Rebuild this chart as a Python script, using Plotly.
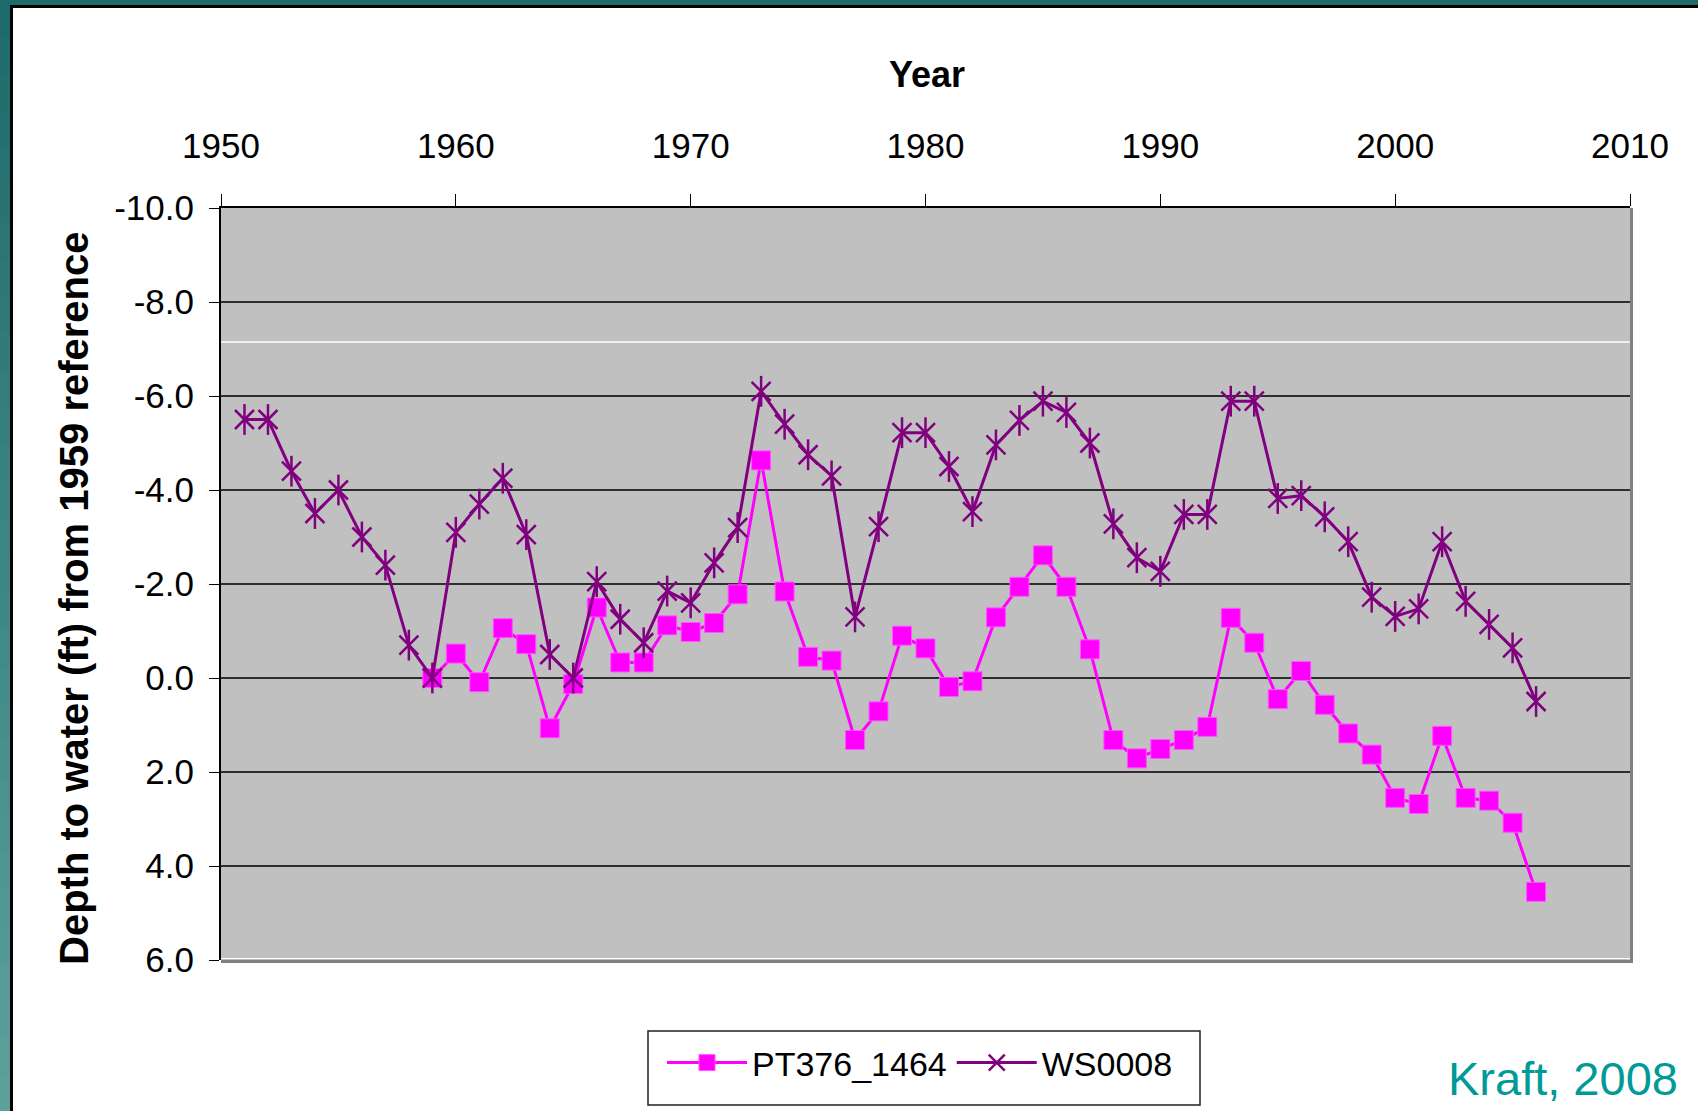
import plotly.graph_objects as go

# ---------------- data ----------------
ws_years = list(range(1951, 2007))
ws_values = [
    -5.5, -5.5, -4.4, -3.5, -4.0, -3.0, -2.4, -0.7, 0.0, -3.1,
    -3.7, -4.25, -3.05, -0.5, 0.0, -2.05, -1.25, -0.75, -1.85, -1.6,
    -2.45, -3.2, -6.1, -5.4, -4.75, -4.3, -1.3, -3.22, -5.22, -5.22,
    -4.5, -3.54, -4.96, -5.48, -5.89, -5.65, -5.0, -3.28, -2.56, -2.27,
    -3.48, -3.48, -5.89, -5.89, -3.82, -3.88, -3.43, -2.9, -1.72, -1.31,
    -1.47, -2.9, -1.63, -1.14, -0.64, 0.5,
]
pt_years = list(range(1959, 2007))
pt_values = [
    0.0, -0.52, 0.09, -1.06, -0.72, 1.07, 0.13, -1.5, -0.33, -0.33,
    -1.12, -0.98, -1.17, -1.78, -4.63, -1.84, -0.45, -0.37, 1.32, 0.71,
    -0.9, -0.63, 0.19, 0.07, -1.29, -1.94, -2.61, -1.94, -0.61, 1.32,
    1.71, 1.51, 1.32, 1.04, -1.28, -0.75, 0.45, -0.15, 0.57, 1.18,
    1.63, 2.55, 2.68, 1.23, 2.55, 2.61, 3.08, 4.55,
]
x_tick_vals = [1950, 1960, 1970, 1980, 1990, 2000, 2010]
y_tick_vals = [-10, -8, -6, -4, -2, 0, 2, 4, 6]
y_tick_text = ["-10.0", "-8.0", "-6.0", "-4.0", "-2.0", "0.0", "2.0", "4.0", "6.0"]

# ---------------- geometry ----------------
W, H = 1698, 1111
L, R, T, B = 221, 1630, 208, 960
FONT = "Arial, Liberation Sans, sans-serif"


def px_x(p):
    return (p - L) / (R - L)


def px_y(p):
    return (B - p) / (B - T)


fig = go.Figure()

fig.add_trace(go.Scatter(
    x=pt_years, y=pt_values, name="PT376_1464", mode="lines+markers",
    line=dict(color="#FF00FF", width=3),
    marker=dict(symbol="square", size=19, color="#FF00FF",
                line=dict(color="#FF55FF", width=1)),
))
fig.add_trace(go.Scatter(
    x=ws_years, y=ws_values, name="WS0008", mode="lines+markers",
    legendgroup="ws",
    line=dict(color="#800080", width=3),
    marker=dict(symbol="x-thin-open", size=19, color="#800080",
                line=dict(color="#800080", width=2.5)),
))
fig.add_trace(go.Scatter(
    x=ws_years, y=ws_values, name="WS0008", mode="markers",
    legendgroup="ws", showlegend=False, hoverinfo="skip",
    marker=dict(symbol="line-ns-open", size=22, color="#800080",
                line=dict(color="#800080", width=2.5)),
))

shapes = []
# white artifact line in plot area
shapes.append(dict(type="line", xref="paper", yref="y", x0=0, x1=1, y0=-7.15, y1=-7.15,
                   line=dict(color="white", width=1.5), layer="below"))
# gray right/bottom border of plot area
shapes.append(dict(type="line", xref="paper", yref="paper", x0=px_x(R + 1.5), x1=px_x(R + 1.5),
                   y0=px_y(T), y1=px_y(B + 3), line=dict(color="#808080", width=3)))
shapes.append(dict(type="line", xref="paper", yref="paper", x0=0, x1=px_x(R + 3),
                   y0=px_y(B + 1.5), y1=px_y(B + 1.5), line=dict(color="#808080", width=3)))
shapes.append(dict(type="line", xref="paper", yref="paper", x0=0, x1=1,
                   y0=px_y(B - 1.5), y1=px_y(B - 1.5), line=dict(color="white", width=1)))

# legend box
shapes.append(dict(type="rect", xref="paper", yref="paper", x0=px_x(648), x1=px_x(1200),
                   y0=px_y(1031), y1=px_y(1105), fillcolor="white",
                   line=dict(color="#222222", width=1.5), layer="below"))

# teal frame: top band
shapes.append(dict(type="rect", xref="paper", yref="paper", x0=px_x(0), x1=px_x(W),
                   y0=px_y(0), y1=px_y(5), fillcolor="#1E6B6B", line=dict(width=0)))
shapes.append(dict(type="rect", xref="paper", yref="paper", x0=px_x(10), x1=px_x(W),
                   y0=px_y(5), y1=px_y(8), fillcolor="black", line=dict(width=0)))
# left band with gradient
n = 30
c0 = (0x1E, 0x6B, 0x6B)
c1 = (0x5C, 0xA0, 0x9C)
for i in range(n):
    t = i / (n - 1)
    col = "rgb(%d,%d,%d)" % tuple(round(a + (b - a) * t) for a, b in zip(c0, c1))
    shapes.append(dict(type="rect", xref="paper", yref="paper", x0=px_x(0), x1=px_x(10.2),
                       y0=px_y(H * i / n), y1=px_y(H * (i + 1) / n + 1),
                       fillcolor=col, line=dict(width=0)))
shapes.append(dict(type="rect", xref="paper", yref="paper", x0=px_x(10), x1=px_x(13),
                   y0=px_y(5), y1=px_y(H), fillcolor="black", line=dict(width=0)))

annotations = [
    dict(text="<b>Year</b>", xref="paper", yref="paper", x=px_x(927), y=px_y(74),
         xanchor="center", yanchor="middle", showarrow=False,
         font=dict(family=FONT, size=36, color="black")),
    dict(text="<b>Depth to water (ft) from 1959 reference</b>", xref="paper", yref="paper",
         x=px_x(74), y=px_y(598), xanchor="center", yanchor="middle", textangle=-90,
         showarrow=False, font=dict(family=FONT, size=40, color="black")),
    dict(text="Kraft, 2008", xref="paper", yref="paper", x=px_x(1563), y=px_y(1078),
         xanchor="center", yanchor="middle", showarrow=False,
         font=dict(family=FONT, size=47, color="#009A97")),
]

fig.update_layout(
    width=W, height=H,
    margin=dict(l=L, r=W - R, t=T, b=H - B),
    paper_bgcolor="white", plot_bgcolor="#C0C0C0",
    font=dict(family=FONT, size=35, color="black"),
    showlegend=True,
    legend=dict(orientation="h", x=px_x(920), xanchor="center", y=px_y(1063), yanchor="middle",
                bgcolor="rgba(0,0,0,0)", borderwidth=0,
                font=dict(family=FONT, size=34, color="black"), itemwidth=80,
                traceorder="normal"),
    xaxis=dict(side="top", range=[1950, 2010], tickvals=x_tick_vals, showgrid=False,
               zeroline=False, ticks="outside", ticklen=12, tickcolor="black", tickwidth=1,
               showline=True, linecolor="black", linewidth=2,
               tickfont=dict(family=FONT, size=35, color="black"), ticklabelstandoff=22),
    yaxis=dict(range=[6, -10], tickvals=y_tick_vals, ticktext=y_tick_text,
               showgrid=True, gridcolor="#2E2E2E", gridwidth=1.5, zeroline=False,
               ticks="outside", ticklen=10, tickcolor="black", tickwidth=1,
               showline=True, linecolor="black", linewidth=2,
               tickfont=dict(family=FONT, size=35, color="black"), ticklabelstandoff=8),
    shapes=shapes,
    annotations=annotations,
)

fig.write_html("out.html", config={"displayModeBar": False},
               post_script="document.body.style.margin='0';")
